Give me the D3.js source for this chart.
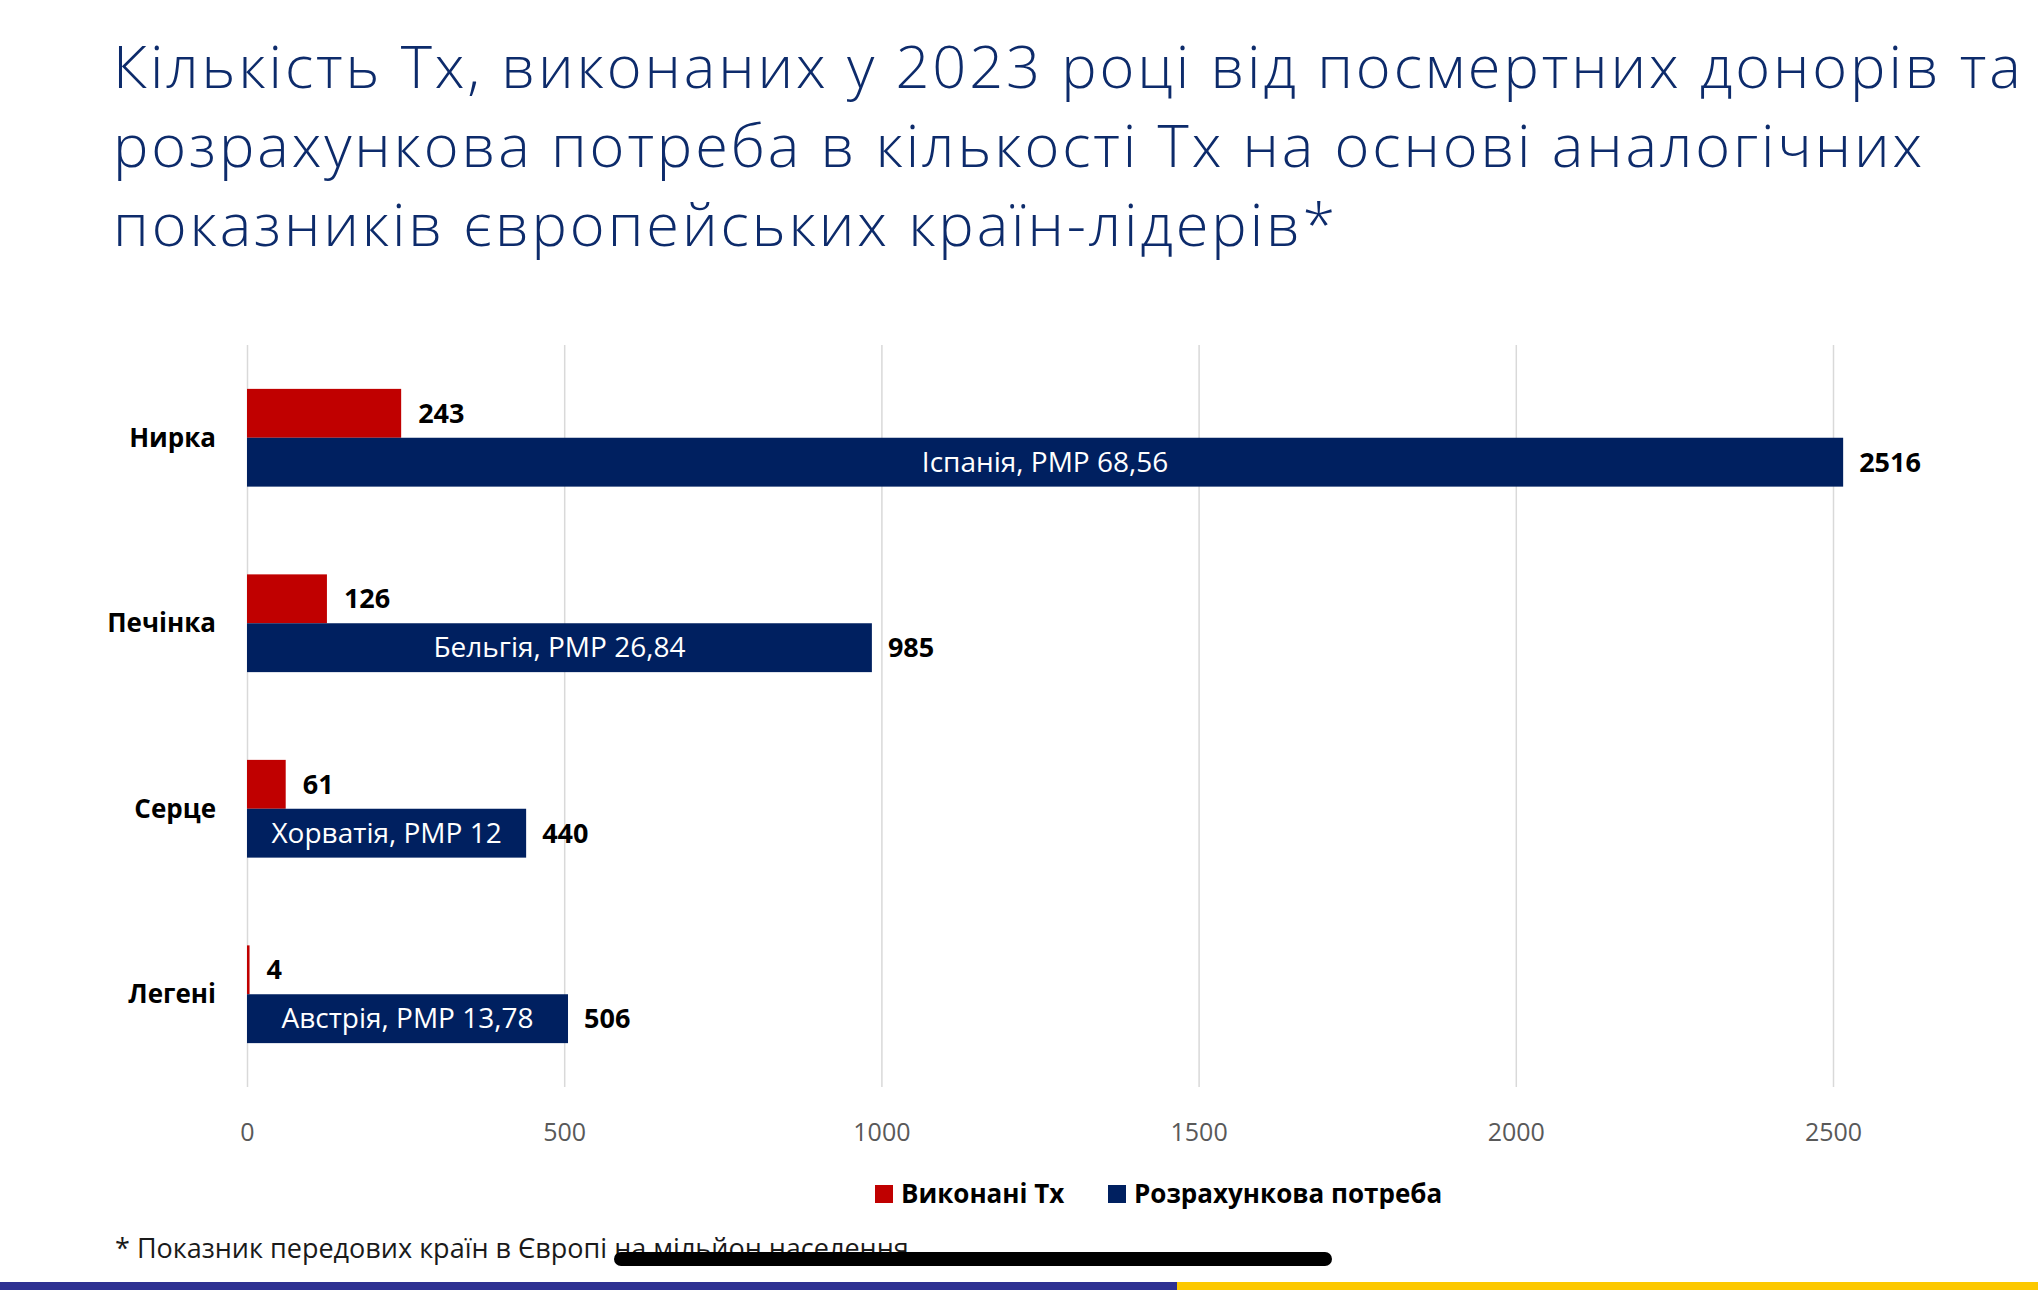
<!DOCTYPE html>
<html>
<head>
<meta charset="utf-8">
<script src="https://cdn.jsdelivr.net/npm/d3@7"></script>
<style>
  html, body { margin: 0; padding: 0; background: #fff; }
  svg { display: block; font-family: "Open Sans", "Noto Sans", sans-serif; }
</style>
</head>
<body>
<svg id="chart" width="2038" height="1290"></svg>
<script>
// chart data
const titleLines = [
  "Кількість Тх, виконаних у 2023 році від посмертних донорів та",
  "розрахункова потреба в кількості Тх на основі аналогічних",
  "показників європейських країн-лідерів*"
];
const categories  = ["Нирка", "Печінка", "Серце", "Легені"];
const doneValues  = [243, 126, 61, 4];       // Виконані Тх
const needValues  = [2516, 985, 440, 506];   // Розрахункова потреба
const needLabels  = ["Іспанія, РМР 68,56", "Бельгія, РМР 26,84", "Хорватія, РМР 12", "Австрія, РМР 13,78"];
const seriesNames = ["Виконані Тх", "Розрахункова потреба"];
const xTicks      = [0, 500, 1000, 1500, 2000, 2500];
const footnote    = "* Показник передових країн в Європі на мільйон населення";

const COLORS = { done: "#c00000", need: "#002060", title: "#0d2b6b" };

const W = 2038, H = 1290;
const plot = { left: 247, right: 1833, top: 345, bottom: 1087 };

const svg = d3.select("#chart");

// title, one text per line
svg.selectAll(".title-line")
  .data(titleLines)
  .enter().append("text")
  .attr("class", "title-line")
  .attr("x", 113)
  .attr("y", (d, i) => 88 + i * 79)
  .attr("fill", COLORS.title)
  .style("font-size", "59.5px")
  .style("font-weight", 300)
  .style("letter-spacing", "2.9px")
  .text(d => d);

let x = d3.scaleLinear().domain([0, 2500]).range([plot.left, plot.right]);

let y = d3.scaleBand()
  .domain(categories)
  .range([plot.top, plot.bottom])
  .paddingInner(0.473)
  .paddingOuter(0.2365);

let ySub = d3.scaleBand()
  .domain(["done", "need"])
  .range([0, y.bandwidth()]);

// gridlines
svg.append("g")
  .attr("transform", `translate(0, ${plot.bottom})`)
  .call(d3.axisBottom(x).tickValues(xTicks).tickSize(-(plot.bottom - plot.top)).tickFormat(""))
  .call(g => g.select(".domain").remove())
  .call(g => g.selectAll("line").attr("stroke", "#d9d9d9").attr("stroke-width", 1.5));

// x tick labels
svg.append("g")
  .attr("transform", `translate(0, ${plot.bottom})`)
  .call(d3.axisBottom(x).tickValues(xTicks).tickSize(0).tickPadding(36).tickFormat(d3.format("d")))
  .call(g => g.select(".domain").remove())
  .call(g => g.selectAll("text")
    .attr("fill", "#595959")
    .style("font-family", "'Open Sans', sans-serif")
    .style("font-size", "25px"));

let rows = categories.map((c, i) => ({
  cat: c, done: doneValues[i], need: needValues[i], label: needLabels[i]
}));

let group = svg.selectAll(".row")
  .data(rows)
  .enter().append("g")
  .attr("class", "row")
  .attr("transform", d => `translate(0, ${y(d.cat)})`);

// category labels
group.append("text")
  .attr("x", plot.left - 31)
  .attr("y", y.bandwidth() / 2)
  .attr("dy", "0.35em")
  .attr("text-anchor", "end")
  .attr("fill", "#000")
  .style("font-size", "26px")
  .style("font-weight", 700)
  .text(d => d.cat);

// red bars
group.append("rect")
  .attr("x", x(0))
  .attr("y", ySub("done"))
  .attr("width", d => x(d.done) - x(0))
  .attr("height", ySub.bandwidth())
  .attr("fill", COLORS.done);

// blue bars
group.append("rect")
  .attr("x", x(0))
  .attr("y", ySub("need"))
  .attr("width", d => x(d.need) - x(0))
  .attr("height", ySub.bandwidth())
  .attr("fill", COLORS.need);

// value labels
group.append("text")
  .attr("x", d => x(d.done) + 17)
  .attr("y", ySub("done") + ySub.bandwidth() / 2)
  .attr("dy", "0.35em")
  .style("font-size", "27px")
  .style("font-weight", 700)
  .text(d => d.done);

group.append("text")
  .attr("x", d => x(d.need) + 16)
  .attr("y", ySub("need") + ySub.bandwidth() / 2)
  .attr("dy", "0.35em")
  .style("font-size", "27px")
  .style("font-weight", 700)
  .text(d => d.need);

// country label inside the blue bar
group.append("text")
  .attr("x", d => (x(0) + x(d.need)) / 2)
  .attr("y", ySub("need") + ySub.bandwidth() / 2)
  .attr("dy", "0.35em")
  .attr("text-anchor", "middle")
  .attr("fill", "#fff")
  .style("font-size", "28px")
  .text(d => d.label);

// legend
let legendX = [875, 1108];
let legend = svg.selectAll(".legend")
  .data(seriesNames)
  .enter().append("g")
  .attr("class", "legend")
  .attr("transform", (d, i) => `translate(${legendX[i]}, 1185)`);

legend.append("rect")
  .attr("width", 18)
  .attr("height", 18)
  .attr("fill", (d, i) => i === 0 ? COLORS.done : COLORS.need);

legend.append("text")
  .attr("x", 26)
  .attr("y", 9)
  .attr("dy", "0.35em")
  .style("font-size", "26px")
  .style("font-weight", 700)
  .text(d => d);

// footnote
svg.append("text")
  .attr("x", 115)
  .attr("y", 1258)
  .attr("fill", "#1a1a1a")
  .style("font-size", "27px")
  .text(footnote);

// phone home indicator that covers the footnote in the screenshot
svg.append("rect")
  .attr("x", 614).attr("y", 1252)
  .attr("width", 718).attr("height", 14)
  .attr("rx", 7)
  .attr("fill", "#000");

// bottom stripe
svg.append("rect").attr("x", 0).attr("y", 1282).attr("width", 1177).attr("height", 8).attr("fill", "#2e3192");
svg.append("rect").attr("x", 1177).attr("y", 1282).attr("width", W - 1177).attr("height", 8).attr("fill", "#fcc800");
</script>
</body>
</html>
